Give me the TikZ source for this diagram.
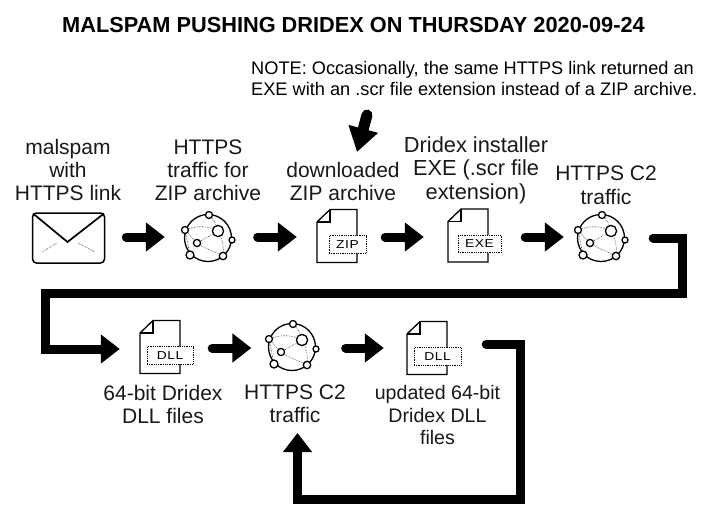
\documentclass[tikz,border=0pt]{standalone}
\usepackage{fontspec}
\setmainfont{Liberation Sans}
\newfontfamily\iconfont[FakeStretch=1.2,LetterSpace=5]{Liberation Sans}
\usetikzlibrary{arrows.meta}
\tikzset{
  x=1pt,y=-1pt,
  lbl/.style={align=center,inner sep=0pt,font=\fontsize{21}{23}\selectfont,text=black!90},
  flow/.style={line width=9pt,line cap=round,miter limit=10,-{Triangle[length=19pt,width=28pt]}},
  envbox/.style={draw,line width=1.5pt,rounded corners=4pt,minimum width=72pt,minimum height=50pt,inner sep=0pt},
  globebox/.style={circle,draw,line width=1.3pt,minimum size=47pt,inner sep=0pt},
  filebox/.style={minimum width=40pt,minimum height=53pt,inner sep=0pt},
  tagbox/.style={draw,densely dotted,line width=.8pt,fill=white,inner sep=0pt,font=\iconfont\fontsize{11.5}{12}\selectfont},
  netdot/.style={draw,line width=1.3pt,fill=white},
  netlink/.style={densely dotted,line width=.6pt,black!80},
  fileline/.style={line width=1.3pt,line join=miter},
}
\newcommand{\globeicon}[3]{%
  \node[globebox] (#1) at (#2,#3) {};
  \begin{scope}[shift={(#1.center)}]
    \draw[netlink] (-23,-8) .. controls (-10,-13) and (0,-12) .. (10,-7);
    \draw[netlink] (1,-23) .. controls (6,-18) and (9,-13) .. (10,-7);
    \draw[netlink] (-11,5) -- (10,-7);
    \draw[netlink] (-23,-8) -- (-11,5);
    \draw[netlink] (-11,5) .. controls (-3,11) and (8,14) .. (15,18);
    \draw[netlink] (10,-7) .. controls (15,2) and (16,10) .. (15,18);
    \draw[netlink] (-23,-8) -- (-18,17);
    \draw[netdot] (1,-23) circle (3.5);
    \draw[netdot] (-23,-8) circle (3.5);
    \draw[netdot] (24,2) circle (3);
    \draw[netdot] (-18,17) circle (4);
    \draw[netdot] (15,18) circle (3.7);
    \draw[netdot] (10,-7) circle (5.6);
    \draw[netdot] (-11,5) circle (3.6);
  \end{scope}}
\newcommand{\fileicon}[6]{% name, cx, cy, tag, tag dx, tag width
  \node[filebox] (#1) at (#2,#3) {};
  \begin{scope}[shift={(#1.center)}]
    \draw[fileline] (-7,-26.5) -- (20,-26.5) -- (20,26.5) -- (-20,26.5) -- (-20,-14) -- cycle;
    \draw[fileline] (-7,-26.5) -- (-7,-14) -- (-20,-14);
    \node[tagbox,minimum width=#6pt,minimum height=17.5pt] (#1t) at (#5,8.5) {#4};
  \end{scope}}
\begin{document}
\begin{tikzpicture}
\useasboundingbox[fill=white] (0,0) rectangle (706,517);

\node[inner sep=0pt,font=\bfseries\fontsize{21.75}{24}\selectfont] (title) at (353.5,25) {MALSPAM PUSHING DRIDEX ON THURSDAY 2020-09-24};
\node[anchor=north west,align=left,inner sep=0pt,font=\fontsize{18.2}{21}\selectfont] (note) at (251,61) {NOTE: Occasionally, the same HTTPS link returned an\\EXE with an .scr file extension instead of a ZIP archive.};

\node[lbl] (l1) at (68,170) {malspam\\with\\HTTPS link};
\node[lbl] (l2) at (208,170) {HTTPS\\traffic for\\ZIP archive};
\node[lbl] (l3) at (343,181) {downloaded\\ZIP archive};
\node[lbl,font=\fontsize{21.8}{23.5}\selectfont] (l4) at (476,170) {Dridex installer\\EXE (.scr file\\extension)};
\node[lbl,font=\fontsize{21}{24}\selectfont] (l5) at (606,185) {HTTPS C2\\traffic};
\node[lbl] (l6) at (163,404) {64-bit Dridex\\DLL files};
\node[lbl] (l7) at (295,404) {HTTPS C2\\traffic};
\node[lbl,font=\fontsize{19.6}{22.5}\selectfont] (l8) at (437.5,415) {updated 64-bit\\Dridex DLL\\files};

\coordinate (r1) at (0,237);
\coordinate (r2) at (0,348);

\node[envbox] (mail) at (68.5,238) {};
\draw[line width=1.7pt] (33,213.5) -- (67.5,242) -- (104,213.5);
\draw[netlink] (42,252) -- (57,243);
\draw[netlink] (78,243) -- (95,252);

\globeicon{g1}{208}{238}
\fileicon{zip}{337}{236}{ZIP}{10.5}{37}
\fileicon{exe}{468}{235.5}{EXE}{11.5}{43}
\globeicon{g2}{601}{238}
\fileicon{dlla}{160}{347}{DLL}{10}{46}
\globeicon{g3}{292}{347}
\fileicon{dllb}{427}{348}{DLL}{10.5}{47}

\coordinate (n1) at (367,115);
\coordinate (n2) at (357,152);
\draw[flow,line width=11pt,-{Triangle[length=24pt,width=29pt]}] (n1) -- (n2);

\draw[flow] ([xshift=21pt]mail.east |- r1) -- ([xshift=-19pt]g1.west |- r1);
\draw[flow] ([xshift=25.5pt]g1.east |- r1) -- ([xshift=-20pt]zip.west |- r1);
\draw[flow] ([xshift=28pt]zip.east |- r1) -- ([xshift=-24pt]exe.west |- r1);
\draw[flow] ([xshift=37pt]exe.east |- r1) -- ([xshift=-13pt]g2.west |- r1);
\draw[flow] ([xshift=32pt]dlla.east |- r2) -- ([xshift=-16.5pt]g3.west |- r2);
\draw[flow] ([xshift=29.5pt]g3.east |- r2) -- ([xshift=-23pt]dllb.west |- r2);

\coordinate (c1) at (682.5,238);
\coordinate (c2) at (682.5,293.5);
\coordinate (c3) at (45.5,293.5);
\coordinate (c4) at (45.5,349);
\draw[flow] ([xshift=28pt]g2.east |- c1) -- (c1) -- (c2) -- (c3) -- (c4) -- ([xshift=-20pt]dlla.west |- c4);

\coordinate (c5) at (520,344);
\coordinate (c6) at (520,499.5);
\coordinate (c7) at (297.5,499.5);
\coordinate (c8) at (297.5,433);
\draw[flow] ([xshift=39pt]dllb.east |- c5) -- (c5) -- (c6) -- (c7) -- (c8);
\end{tikzpicture}
\end{document}
